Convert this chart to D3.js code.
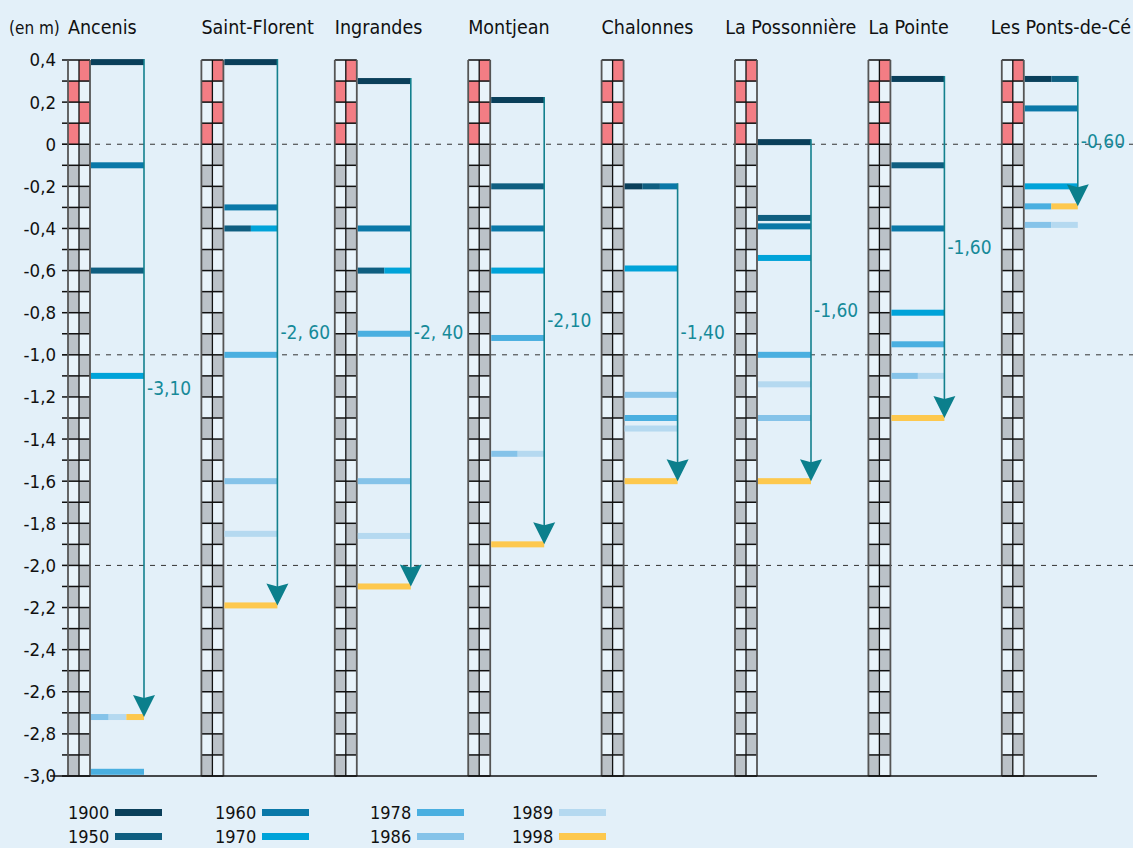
<!DOCTYPE html>
<html>
<head>
<meta charset="utf-8">
<script src="https://cdn.jsdelivr.net/npm/d3@7"></script>
<style>
  body { margin: 0; background: #e3f0f9; }
  svg { display: block; }
  text { font-family: 'Liberation Sans Narrow', 'DejaVu Sans Condensed', 'Roboto', sans-serif; }
</style>
</head>
<body>
<svg id="chart" width="1133" height="848"></svg>
<script>
// stations along the Loire, upstream to the right
var stations = ["Ancenis", "Saint-Florent", "Ingrandes", "Montjean", "Chalonnes", "La Possonnière", "La Pointe", "Les Ponts-de-Cé"];
var years = ["1900", "1950", "1960", "1970", "1978", "1986", "1989", "1998"];
var yearColors = ["#0a3f5a", "#0f5e80", "#0a78a8", "#00a3d9", "#4aafe0", "#85c3e9", "#b5d9f0", "#fdc84e"];

// water level (m) for each station, one value per year above
var ancenis      = [0.39, -0.6, -0.1, -1.1, -2.98, -2.72, -2.72, -2.72];
var saintFlorent = [0.39, -0.4, -0.3, -0.4, -1.0, -1.6, -1.85, -2.19];
var ingrandes    = [0.30, -0.6, -0.4, -0.6, -0.9, -1.6, -1.86, -2.1];
var montjean     = [0.21, -0.2, -0.4, -0.6, -0.92, -1.47, -1.47, -1.9];
var chalonnes    = [-0.2, -0.2, -0.2, -0.59, -1.3, -1.19, -1.35, -1.6];
var possonniere  = [0.01, -0.35, -0.39, -0.54, -1.0, -1.3, -1.14, -1.6];
var laPointe     = [0.31, -0.1, -0.4, -0.8, -0.95, -1.1, -1.1, -1.3];
var pontsDeCe    = [0.31, 0.31, 0.17, -0.2, -0.295, -0.383, -0.383, -0.295];
var levels = [ancenis, saintFlorent, ingrandes, montjean, chalonnes, possonniere, laPointe, pontsDeCe];

var drops = ["-3,10", "-2, 60", "-2, 40", "-2,10", "-1,40", "-1,60", "-1,60", "-0,60"];
var yTicks = [0.4, 0.2, 0, -0.2, -0.4, -0.6, -0.8, -1.0, -1.2, -1.4, -1.6, -1.8, -2.0, -2.2, -2.4, -2.6, -2.8, -3.0];
var dashedLevels = [0, -1.0, -2.0];

var svg = d3.select("#chart");
var W = 1133;

var y = d3.scaleLinear().domain([-3.0, 0.4]).range([776, 60]);
var x = d3.scaleBand().domain(stations).range([68, 68 + 133.4 * stations.length]);

var cellW = 11, barW = 53, barH = 6;
var fmt = function(v){
  if (Math.abs(v) < 1e-9) return "0";
  return d3.format(".1f")(v).replace("−", "-").replace(".", ",");
};

// background
svg.append("rect").attr("width", W).attr("height", 848).attr("fill", "#e3f0f9");

// dashed reference lines
svg.selectAll("line.dash").data(dashedLevels).enter()
  .append("line")
  .attr("class", "dash")
  .attr("x1", 62).attr("x2", W)
  .attr("y1", function(d){ return y(d); })
  .attr("y2", function(d){ return y(d); })
  .attr("stroke", "#333").attr("stroke-width", 1)
  .attr("stroke-dasharray", "5,6");

// y axis labels and small ticks
svg.selectAll("text.ytick").data(yTicks).enter()
  .append("text")
  .attr("class", "ytick")
  .attr("x", 56)
  .attr("y", function(d){ return y(d); })
  .attr("dy", "0.35em")
  .attr("text-anchor", "end")
  .attr("font-size", 18.5)
  .attr("fill", "#111")
  .text(fmt);

var steps = d3.range(0, 35).map(function(i){ return 0.4 - i * 0.1; });
svg.selectAll("line.ytk").data(steps).enter()
  .append("line")
  .attr("class", "ytk")
  .attr("x1", 62).attr("x2", 68)
  .attr("y1", function(d){ return y(d); })
  .attr("y2", function(d){ return y(d); })
  .attr("stroke", "#111").attr("stroke-width", 1.5);

// gauge cells: red/white checks above 0, grey/white below
var cells = [];
for (var k = 0; k < 34; k++) {
  var cellTop = 0.4 - k * 0.1;
  var j, c1, c2;
  if (cellTop > 0.001) {
    j = Math.round(cellTop / 0.1) - 1;            // 0 for 0..0.1
    c1 = j % 2 === 0 ? "#f37d84" : "none";
    c2 = j % 2 === 1 ? "#f37d84" : "none";
  } else {
    j = Math.round(-cellTop / 0.1);               // 0 for 0..-0.1
    c1 = j % 2 === 1 ? "#bbc2c8" : "none";
    c2 = j % 2 === 0 ? "#bbc2c8" : "none";
  }
  cells.push({lvl: cellTop, c: [c1, c2]});
}

stations.forEach(function(s, si){
  var g = svg.append("g").attr("transform", "translate(" + x(s) + ",0)");

  g.append("rect").attr("x", 0).attr("y", y(0.4))
    .attr("width", 2 * cellW).attr("height", y(-3.0) - y(0.4))
    .attr("fill", "#e8f3fa");

  cells.forEach(function(cell){
    cell.c.forEach(function(col, ci){
      if (col === "none") return;
      g.append("rect")
        .attr("x", ci * cellW)
        .attr("y", y(cell.lvl))
        .attr("width", cellW)
        .attr("height", y(cell.lvl - 0.1) - y(cell.lvl))
        .attr("fill", col);
    });
  });

  g.selectAll("line.h").data(steps).enter()
    .append("line")
    .attr("x1", 0).attr("x2", 2 * cellW)
    .attr("y1", function(d){ return y(d); })
    .attr("y2", function(d){ return y(d); })
    .attr("stroke", "#111").attr("stroke-width", 1.5);

  g.append("line").attr("x1", cellW).attr("x2", cellW)
    .attr("y1", y(0.4)).attr("y2", y(-3.0))
    .attr("stroke", "#111").attr("stroke-width", 1.3);
  [0, 2 * cellW].forEach(function(xx){
    g.append("line").attr("x1", xx).attr("x2", xx)
      .attr("y1", y(0.4)).attr("y2", y(-3.0))
      .attr("stroke", "#555").attr("stroke-width", 1.8);
  });

  // bars: years sharing a level split the bar
  var vals = levels[si];
  var groups = d3.groups(vals.map(function(v, yi){ return {v: v, yi: yi}; }), function(d){ return d.v; });
  var bx = 2 * cellW + 1;
  groups.forEach(function(gr){
    var list = gr[1];
    var segW = barW / list.length;
    list.forEach(function(d, k){
      g.append("rect")
        .attr("x", bx + k * segW)
        .attr("y", y(d.v) - barH / 2)
        .attr("width", segW)
        .attr("height", barH)
        .attr("fill", yearColors[d.yi]);
    });
  });

  // arrow from 1900 level to 1998 level
  var lx = bx + barW;
  var yTop = y(vals[0]) - barH / 2;
  var yTip = y(vals[vals.length - 1]);
  g.append("line").attr("x1", lx).attr("x2", lx)
    .attr("y1", yTop).attr("y2", yTip - 15)
    .attr("stroke", "#13808e").attr("stroke-width", 1.6);
  g.append("path")
    .attr("d", "M" + lx + "," + yTip + " L" + (lx - 11) + "," + (yTip - 22) +
               " L" + lx + "," + (yTip - 19) + " L" + (lx + 11) + "," + (yTip - 22) + "Z")
    .attr("fill", "#0b7f8c");

  g.append("text")
    .attr("x", lx + 3)
    .attr("y", (yTop + yTip) / 2)
    .attr("dy", "0.35em")
    .attr("font-size", 19)
    .attr("fill", "#168a99")
    .text(drops[si]);
});

// station names, shifted left when they would run into the next one
var names = svg.selectAll("text.station").data(stations).enter()
  .append("text")
  .attr("class", "station")
  .attr("y", 34)
  .attr("font-size", 19.5)
  .attr("fill", "#111")
  .text(function(d){ return d; });
names.each(function(d, i){
  var w = this.getComputedTextLength();
  var limit = i < stations.length - 1 ? x(stations[i + 1]) - 12 : W - 2;
  d3.select(this).attr("x", Math.min(x(d), limit - w));
});

svg.append("text").attr("x", 9).attr("y", 34)
  .attr("font-size", 17).attr("fill", "#111").text("(en m)");

// bottom axis line
svg.append("line").attr("x1", 50).attr("x2", 1097)
  .attr("y1", y(-3.0)).attr("y2", y(-3.0))
  .attr("stroke", "#111").attr("stroke-width", 1.5);

// legend
var legX = [68, 215, 370, 512];
var legend = svg.selectAll("g.leg").data(years).enter()
  .append("g")
  .attr("class", "leg")
  .attr("transform", function(d, i){
    return "translate(" + legX[Math.floor(i / 2)] + "," + (i % 2 === 0 ? 819 : 843) + ")";
  });
legend.append("text").attr("font-size", 18).attr("fill", "#111").text(function(d){ return d; });
legend.append("rect").attr("x", 47).attr("y", -10).attr("width", 47).attr("height", 7)
  .attr("fill", function(d, i){ return yearColors[i]; });
</script>
</body>
</html>
